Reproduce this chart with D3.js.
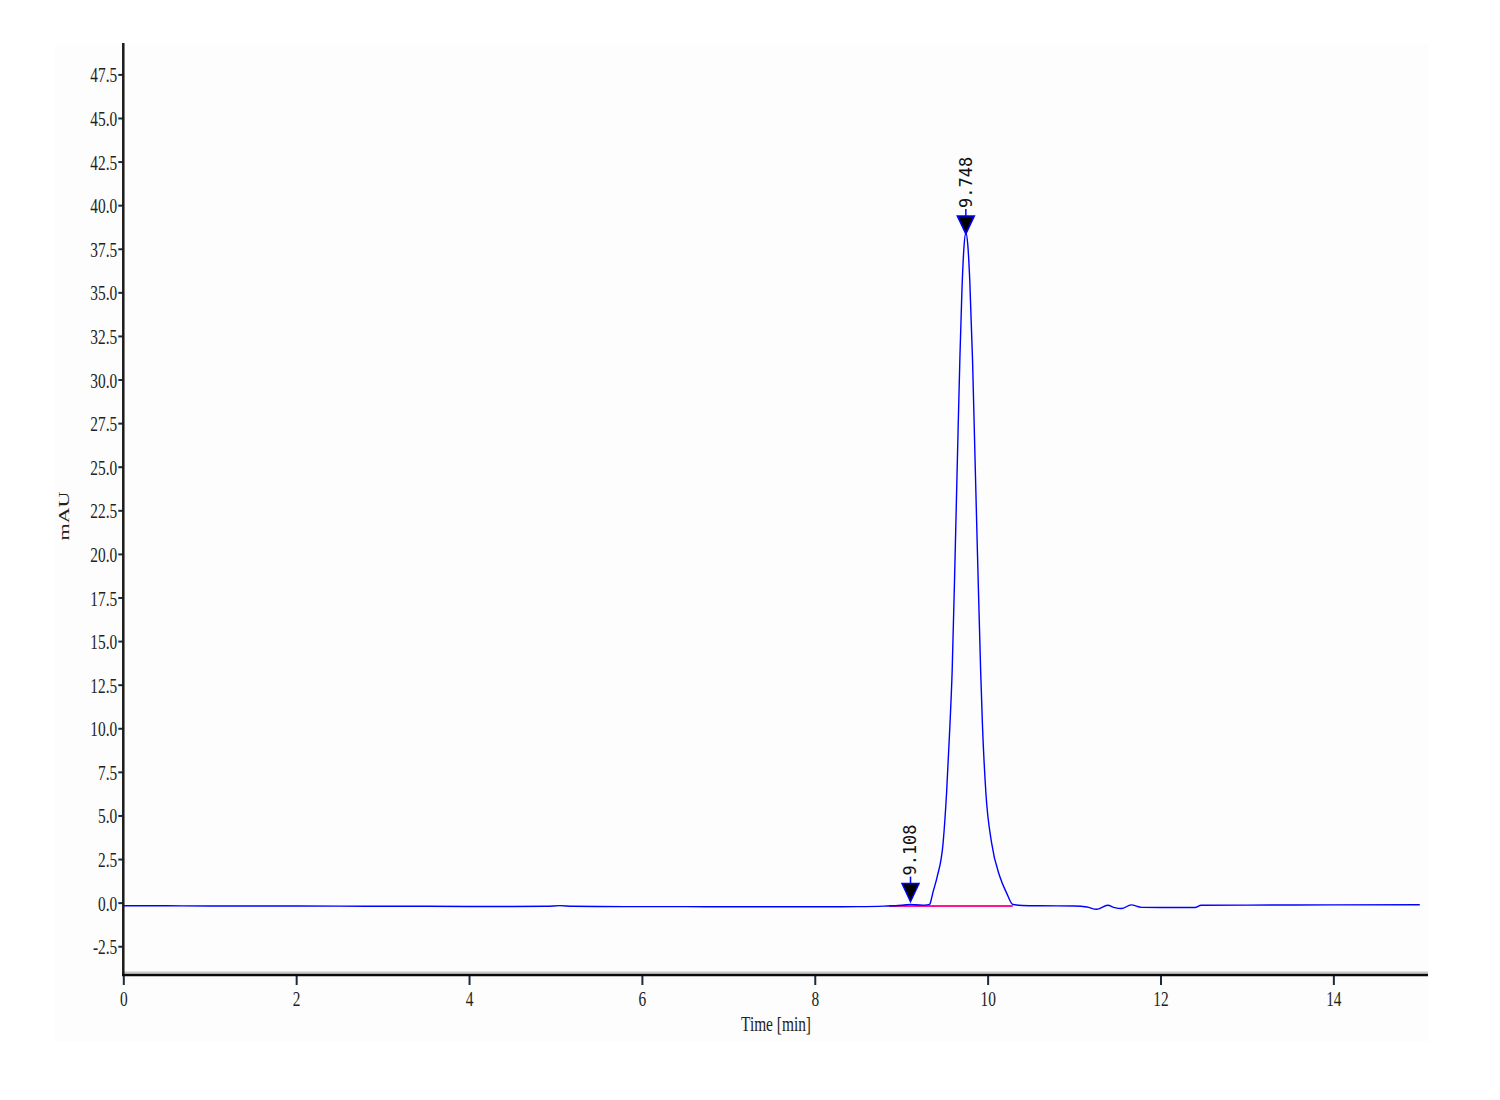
<!DOCTYPE html>
<html>
<head>
<meta charset="utf-8">
<script src="https://cdn.jsdelivr.net/npm/d3@7"></script>
<style>
  html, body { margin: 0; padding: 0; background: #ffffff; }
  svg { display: block; }
</style>
</head>
<body>
<script>
// ---- data ----
const timeMin = [0, 0.5, 1.0, 1.5, 2.0, 2.5, 3.0, 3.5, 4.0, 4.5, 4.9, 5.05, 5.2, 5.5, 6.0, 6.5, 7.0, 7.5, 8.0, 8.5, 8.8,
  9.0, 9.06, 9.108, 9.16, 9.25, 9.30, 9.331, 9.345, 9.366, 9.416, 9.485, 9.525, 9.563, 9.590, 9.624, 9.6525, 9.679, 9.702, 9.725,
  9.748, 9.771, 9.794, 9.8255, 9.852, 9.883, 9.919, 9.941, 9.980, 10.046, 10.142, 10.219, 10.292, 10.4, 10.6,
  11.0, 11.15, 11.26, 11.39, 11.47, 11.55, 11.66, 11.78, 12.0, 12.4, 12.47, 13.0, 14.0, 15.0];
const signalMAU = [-0.18, -0.18, -0.19, -0.19, -0.19, -0.20, -0.21, -0.21, -0.22, -0.22, -0.21, -0.17, -0.21, -0.22, -0.23, -0.23, -0.24, -0.24, -0.24, -0.23, -0.20,
  -0.15, -0.12, -0.10, -0.12, -0.14, -0.13, -0.09, 0.12, 0.56, 1.48, 3.43, 6.29, 10.08, 13.33, 19.93, 25.9, 31.2, 35.0, 37.5,
  38.4, 37.7, 35.6, 31.1, 25.9, 19.93, 13.33, 10.08, 6.29, 3.43, 1.48, 0.56, -0.11, -0.16, -0.18,
  -0.19, -0.25, -0.38, -0.15, -0.29, -0.34, -0.13, -0.27, -0.28, -0.28, -0.15, -0.14, -0.13, -0.12];

const peakTimes = [9.108, 9.748];
const peakLabels = ["9.108", "9.748"];
const peakApex = [0.06, 38.35];

const baselineTimes = [8.86, 10.29];
const baselineValues = [-0.19, -0.19];

const yTicks = [-2.5, 0, 2.5, 5, 7.5, 10, 12.5, 15, 17.5, 20, 22.5, 25, 27.5, 30, 32.5, 35, 37.5, 40, 42.5, 45, 47.5];
const xTicks = [0, 2, 4, 6, 8, 10, 12, 14];

// ---- layout ----
const W = 1500, H = 1100;
const svg = d3.select("body").append("svg").attr("width", W).attr("height", H);

svg.append("rect").attr("x", 55).attr("y", 43).attr("width", 1374).attr("height", 999).attr("fill", "#fdfdfd");

const x = d3.scaleLinear().domain([0, 15.095]).range([123.3, 1428]);
const y = d3.scaleLinear().domain([-4.15, 49.3]).range([975, 43]);

const serif = "'Liberation Serif', 'Times New Roman', serif";
const tickColor = "#1c2a40";
const fmtY = d => d3.format(".1f")(d).replace("\u2212", "-");

// frame grey line above x axis
svg.append("line").attr("x1", 123).attr("x2", 1428).attr("y1", 972.5).attr("y2", 972.5)
  .attr("stroke", "#c8c8c8").attr("stroke-width", 2);

// Y axis
const yAxis = svg.append("g").attr("transform", "translate(123.3,0)")
  .call(d3.axisLeft(y).tickValues(yTicks).tickSize(5).tickPadding(0).tickFormat(fmtY));
yAxis.select(".domain").remove();
yAxis.selectAll(".tick line").attr("stroke", tickColor).attr("stroke-width", 2);
yAxis.selectAll(".tick text")
  .attr("x", null).attr("dy", null)
  .attr("transform", "translate(-6,0) scale(0.7,1)")
  .attr("dominant-baseline", "central")
  .attr("text-anchor", "end")
  .attr("font-family", serif).attr("font-size", 22).attr("fill", "#222");
svg.append("line").attr("x1", 123.3).attr("x2", 123.3).attr("y1", 43).attr("y2", 976)
  .attr("stroke", "#1a1a1a").attr("stroke-width", 2.5);

// X axis
const xAxis = svg.append("g").attr("transform", "translate(0,975)")
  .call(d3.axisBottom(x).tickValues(xTicks).tickSize(10).tickPadding(0).tickFormat(d3.format("d")));
xAxis.select(".domain").remove();
xAxis.selectAll(".tick line").attr("stroke", tickColor).attr("stroke-width", 2);
xAxis.selectAll(".tick text")
  .attr("y", null).attr("dy", null)
  .attr("transform", "translate(0,31) scale(0.7,1)")
  .attr("text-anchor", "middle")
  .attr("font-family", serif).attr("font-size", 22).attr("fill", "#222");
svg.append("line").attr("x1", 122).attr("x2", 1428).attr("y1", 975).attr("y2", 975)
  .attr("stroke", "#0a0a0a").attr("stroke-width", 2.5);

// axis titles
svg.append("text").attr("transform", "translate(776,1031) scale(0.7,1)")
  .attr("text-anchor", "middle").attr("font-family", serif).attr("font-size", 22).attr("fill", "#222")
  .text("Time [min]");
svg.append("text").attr("transform", "translate(69,516) rotate(-90) scale(1,0.7)")
  .attr("text-anchor", "middle").attr("font-family", serif).attr("font-size", 22).attr("fill", "#222")
  .text("mAU");

// baseline (integration)
const bl = baselineTimes.map((t, i) => [t, baselineValues[i]]);
svg.append("path").datum(bl)
  .attr("d", d3.line().x(d => x(d[0])).y(d => y(d[1])))
  .attr("stroke", "#ff1493").attr("stroke-width", 2).attr("fill", "none");

// signal
const pts = timeMin.map((t, i) => [t, signalMAU[i]]);
svg.append("path").datum(pts)
  .attr("d", d3.line().curve(d3.curveMonotoneX).x(d => x(d[0])).y(d => y(d[1])))
  .attr("stroke", "#0000ff").attr("stroke-width", 1.4).attr("fill", "none");

// peak markers
const pk = svg.append("g");
peakTimes.forEach((t, i) => {
  const px = x(t), py = y(peakApex[i]);
  const tw = 8.5, th = 18;
  pk.append("path")
    .attr("d", `M${px},${py} L${px - tw},${py - th} L${px + tw},${py - th} Z`)
    .attr("fill", "#000").attr("stroke", "#0000ff").attr("stroke-width", 1.5);
  pk.append("line").attr("x1", px).attr("x2", px).attr("y1", py - th).attr("y2", py - th - 7)
    .attr("stroke", "#0000ff").attr("stroke-width", 1.5);
  pk.append("text")
    .attr("transform", `translate(${px},${py - th - 8}) rotate(-90)`)
    .attr("dy", "0.35em")
    .attr("text-anchor", "start")
    .attr("font-family", "'DejaVu Sans Mono', 'Liberation Mono', monospace")
    .attr("font-size", 17).attr("fill", "#111")
    .text(peakLabels[i]);
});
</script>
</body>
</html>
